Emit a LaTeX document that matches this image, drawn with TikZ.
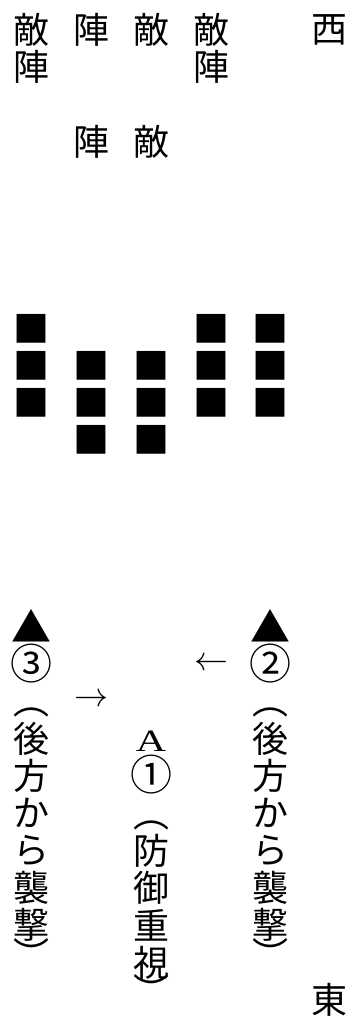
\documentclass[tikz,border=0pt]{standalone}
\usepackage{fontspec}
\newfontfamily\jpfont{Noto Sans CJK JP}
\newfontfamily\widefont[FakeStretch=1.35]{Liberation Serif}
\begin{document}
\begin{tikzpicture}[x=1pt,y=-1pt,
  jp/.style={font=\jpfont\fontsize{36}{36}\selectfont, inner sep=0pt, anchor=center},
  sym/.style={font=\jpfont\fontsize{36}{36}\selectfont, inner sep=0pt, anchor=center},
  circ/.style={font=\jpfont\fontsize{42}{42}\selectfont, inner sep=0pt, anchor=center},
  tri/.style={font=\jpfont\fontsize{40}{40}\selectfont, inner sep=0pt, anchor=center},
  letter/.style={font=\widefont\fontsize{31}{31}\selectfont, inner sep=0pt, anchor=center},
  lat/.style={inner sep=0pt, anchor=center}]
\useasboundingbox (0,0) rectangle (352,1018);
% top rows
\node[jp] (t00) at (31,30) {敵};
\node[jp] (t01) at (91,30) {陣};
\node[jp] (t02) at (151,30) {敵};
\node[jp] (t03) at (211,30) {敵};
\node[jp] (west) at (329,30) {西};
\node[jp] (t10) at (31,67.3) {陣};
\node[jp] (t13) at (211,67.3) {陣};
\node[jp] (t31) at (91,141.9) {陣};
\node[jp] (t32) at (151,141.9) {敵};
% squares
\foreach \c/\x in {0/31,3/211,4/270}
  \node[sym] (sqa\c) at (\x,328.4) {■};
\foreach \c/\x in {0/31,1/91,2/151,3/211,4/270} {
  \node[sym] (sqb\c) at (\x,365.7) {■};
  \node[sym] (sqc\c) at (\x,403) {■};
}
\foreach \c/\x in {1/91,2/151}
  \node[sym] (sqd\c) at (\x,440.3) {■};
% lower part
\node[tri] (triL) at (31,625.5) {▲};
\node[tri] (triR) at (270,625.5) {▲};
\node[circ] (n3) at (31,664) {③};
\node[lat] (larr) at (211,664.1) {\resizebox{34pt}{!}{$\leftarrow$}};
\node[circ] (n2) at (270,664) {②};
\node[lat] (rarr) at (91,700.5) {\resizebox{34pt}{!}{$\rightarrow$}};
% left column
\node[jp] (lp1) at (31,712) {︵};
\node[jp] (l1) at (31,738.7) {後};
\node[jp] (l2) at (31,776) {方};
\node[jp] (l3) at (31,813.3) {か};
\node[jp] (l4) at (31,850.6) {ら};
\node[jp] (l5) at (31,887.9) {襲};
\node[jp] (l6) at (31,925.2) {撃};
\node[jp] (lp2) at (31,953) {︶};
% middle column
\node[letter] (mA) at (151,741) {A};
\node[circ] (n1) at (151,774.5) {①};
\node[jp] (mp1) at (151,825) {︵};
\node[jp] (m1) at (151,850.6) {防};
\node[jp] (m2) at (151,887.9) {御};
\node[jp] (m3) at (151,925.2) {重};
\node[jp] (m4) at (151,962.5) {視};
\node[jp] (mp2) at (151,989) {︶};
% right column
\node[jp] (rp1) at (270,712) {︵};
\node[jp] (r1) at (270,738.7) {後};
\node[jp] (r2) at (270,776) {方};
\node[jp] (r3) at (270,813.3) {か};
\node[jp] (r4) at (270,850.6) {ら};
\node[jp] (r5) at (270,887.9) {襲};
\node[jp] (r6) at (270,925.2) {撃};
\node[jp] (rp2) at (270,953) {︶};
\node[jp] (east) at (329,999.8) {東};
\end{tikzpicture}
\end{document}
